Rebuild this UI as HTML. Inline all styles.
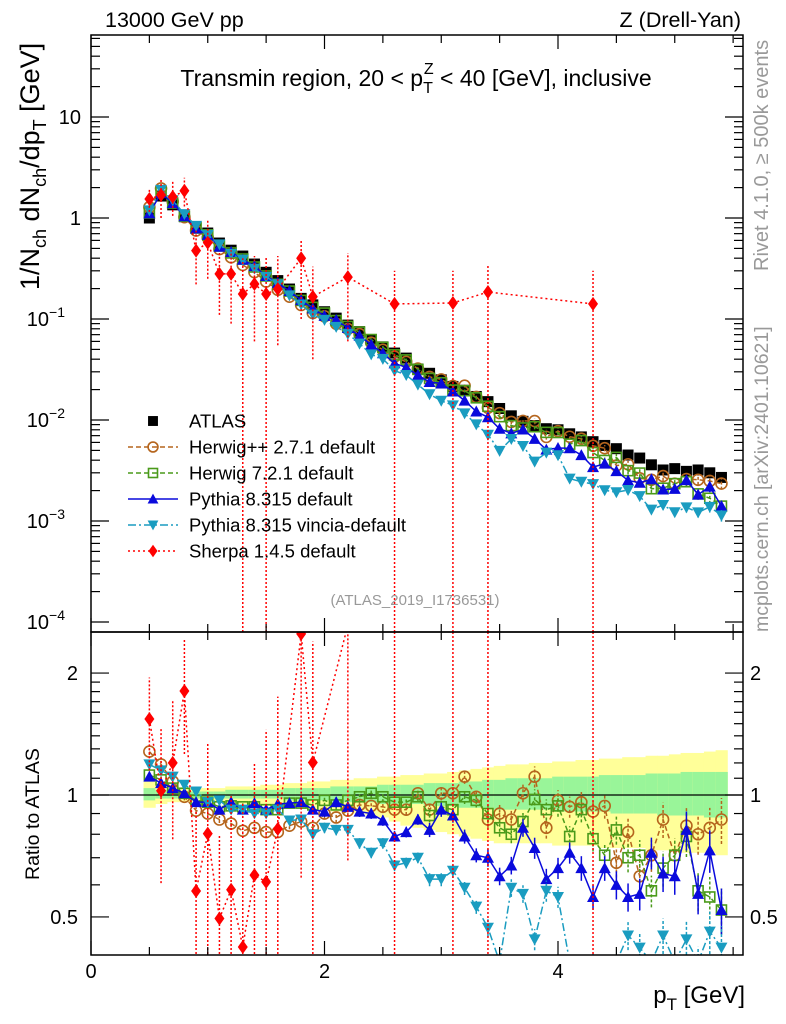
<!DOCTYPE html>
<html><head><meta charset="utf-8"><style>
html,body{margin:0;padding:0;background:#fff;width:786px;height:1024px;overflow:hidden}
svg{display:block;font-family:"Liberation Sans",Arial,sans-serif}
</style></head><body>
<svg id="chart" width="786" height="1024" viewBox="0 0 786 1024" xmlns="http://www.w3.org/2000/svg">
<defs>
<clipPath id="cm"><rect x="91" y="35" width="652" height="597"/></clipPath>
<clipPath id="cr"><rect x="91" y="632" width="652" height="323"/></clipPath>
</defs>
<g id="bands" clip-path="url(#cr)"></g>
<g id="marks"></g>
<g id="axes"></g>
<text x="105" y="27" font-size="21.5">13000 GeV pp</text>
<text x="741" y="27" font-size="21.5" text-anchor="end">Z (Drell-Yan)</text>
<text x="416" y="86" font-size="23" text-anchor="middle">Transmin region, 20 &lt; p<tspan font-size="16" dy="7">T</tspan><tspan font-size="16" dx="-9" dy="-19">Z</tspan><tspan dy="12"> &lt; 40 [GeV], inclusive</tspan></text>
<text x="415" y="605" font-size="15" fill="#999" text-anchor="middle">(ATLAS_2019_I1736531)</text>
<text transform="translate(768,271) rotate(-90)" font-size="20" fill="#999">Rivet 4.1.0, ≥ 500k events</text>
<text transform="translate(768,632) rotate(-90)" font-size="19.5" fill="#999">mcplots.cern.ch [arXiv:2401.10621]</text>
<text transform="translate(39,290) rotate(-90)" font-size="27">1/N<tspan font-size="18" dy="7">ch</tspan><tspan dy="-7"> dN</tspan><tspan font-size="18" dy="7">ch</tspan><tspan dy="-7">/dp</tspan><tspan font-size="18" dy="7">T</tspan><tspan dy="-7"> [GeV]</tspan></text>
<text transform="translate(39,880) rotate(-90)" font-size="19.5">Ratio to ATLAS</text>
<text x="745" y="1003" font-size="24" text-anchor="end">p<tspan font-size="17" dy="7">T</tspan><tspan dy="-7"> [GeV]</tspan></text>
<g id="legend"></g>
</svg>
<script>
const pt=[0.5,0.6,0.7,0.8,0.9,1.0,1.1,1.2,1.3,1.4,1.5,1.6,1.7,1.8,1.9,2.0,2.1,2.2,2.3,2.4,2.5,2.6,2.7,2.8,2.9,3.0,3.1,3.2,3.3,3.4,3.5,3.6,3.7,3.8,3.9,4.0,4.1,4.2,4.3,4.4,4.5,4.6,4.7,4.8,4.9,5.0,5.1,5.2,5.3,5.4];
const atlas=[1.0,1.65,1.35,1.03,0.82,0.71,0.565,0.48,0.42,0.35,0.29,0.24,0.198,0.16,0.138,0.118,0.102,0.087,0.075,0.062,0.053,0.046,0.041,0.032,0.029,0.025,0.0215,0.0197,0.0171,0.0152,0.013,0.011,0.0097,0.0088,0.0082,0.0080,0.0073,0.0068,0.0061,0.0056,0.0052,0.0045,0.0042,0.0036,0.0032,0.0033,0.0031,0.0032,0.0030,0.0027];
const herwigpp=[1.28,1.19,1.08,0.99,0.915,0.90,0.87,0.85,0.816,0.83,0.81,0.81,0.84,0.86,0.83,0.90,0.88,0.915,0.945,0.94,0.935,0.92,0.92,1.01,0.92,1.01,1.01,1.11,0.99,0.87,0.90,0.87,1.01,1.11,0.83,0.97,0.935,0.96,0.91,0.94,0.68,0.81,0.63,0.71,0.87,0.71,0.84,0.80,0.83,0.87];
const herwig7=[1.12,1.09,1.04,1.01,0.97,0.96,0.935,0.94,0.935,0.935,0.92,0.92,0.955,0.955,0.945,0.97,0.945,0.97,0.99,1.01,0.99,0.96,0.96,0.99,0.89,0.935,0.92,0.99,0.97,0.90,0.83,0.80,0.86,0.975,0.92,0.94,0.79,0.92,0.78,0.71,0.82,0.70,0.71,0.58,0.66,0.71,0.79,0.58,0.56,0.52];
const pythia=[1.11,1.07,1.04,1.01,0.96,0.96,0.92,0.96,0.92,0.955,0.92,0.95,0.955,0.96,0.92,0.91,0.96,0.935,0.91,0.90,0.865,0.79,0.81,0.87,0.82,0.92,0.89,0.79,0.71,0.70,0.63,0.67,0.83,0.74,0.62,0.66,0.72,0.66,0.56,0.66,0.60,0.56,0.57,0.72,0.64,0.63,0.82,0.57,0.73,0.52];
const vincia=[1.19,1.15,1.11,1.06,1.02,0.96,0.97,0.92,0.92,0.90,0.90,0.92,0.865,0.87,0.80,0.83,0.82,0.82,0.76,0.72,0.76,0.67,0.68,0.70,0.62,0.62,0.65,0.59,0.53,0.47,0.38,0.59,0.57,0.44,0.58,0.56,0.36,0.36,0.38,0.36,0.37,0.45,0.42,0.36,0.45,0.37,0.44,0.38,0.46,0.42];
const mcRelErr=[0.02,0.02,0.02,0.02,0.02,0.02,0.02,0.02,0.02,0.02,0.02,0.02,0.02,0.02,0.02,0.03,0.03,0.03,0.03,0.03,0.03,0.03,0.03,0.03,0.04,0.04,0.04,0.04,0.04,0.05,0.05,0.05,0.05,0.06,0.06,0.06,0.06,0.07,0.07,0.07,0.08,0.08,0.09,0.09,0.10,0.10,0.11,0.11,0.12,0.13];
const sherpaPt=[0.5,0.6,0.7,0.8,0.9,1.0,1.1,1.2,1.3,1.4,1.5,1.6,1.8,1.9,2.2,2.6,3.1,3.4,4.3];
const sherpa=[1.54,1.69,1.62,1.86,0.475,0.57,0.28,0.28,0.177,0.222,0.177,0.198,0.40,0.166,0.26,0.141,0.144,0.185,0.141];
const sherpaLo=[1.15,1.0,1.05,1.3,0.22,0.25,0.11,0.09,0.00001,0.06,0.00001,0.055,0.1,0.04,0.06,0.00001,0.00001,0.00001,0.00001];
const sherpaHi=[1.95,2.4,2.3,2.5,0.75,0.95,0.45,0.48,0.4,0.42,0.42,0.42,0.62,0.33,0.45,0.3,0.3,0.34,0.3];
const bandYHi=[1.08,1.06,1.05,1.04,1.04,1.04,1.04,1.05,1.05,1.05,1.06,1.06,1.07,1.07,1.08,1.08,1.09,1.09,1.10,1.10,1.11,1.11,1.12,1.12,1.13,1.13,1.14,1.15,1.16,1.17,1.18,1.19,1.19,1.20,1.20,1.21,1.21,1.22,1.22,1.23,1.23,1.24,1.24,1.25,1.25,1.26,1.27,1.27,1.28,1.29];
const bandGHi=[1.04,1.03,1.03,1.02,1.02,1.02,1.02,1.03,1.03,1.03,1.03,1.03,1.04,1.04,1.04,1.04,1.05,1.05,1.05,1.05,1.06,1.06,1.06,1.06,1.07,1.07,1.07,1.08,1.08,1.09,1.09,1.10,1.10,1.10,1.10,1.11,1.11,1.11,1.11,1.12,1.12,1.12,1.12,1.13,1.13,1.13,1.14,1.14,1.14,1.14];
const bandGLo=[0.97,0.98,0.98,0.98,0.98,0.98,0.98,0.98,0.98,0.98,0.98,0.98,0.97,0.97,0.97,0.97,0.96,0.96,0.96,0.96,0.95,0.95,0.95,0.95,0.94,0.94,0.94,0.93,0.93,0.93,0.92,0.92,0.92,0.92,0.92,0.91,0.91,0.91,0.91,0.91,0.90,0.90,0.90,0.90,0.89,0.89,0.89,0.89,0.88,0.88];
const bandYLo=[0.93,0.95,0.96,0.96,0.96,0.96,0.96,0.95,0.95,0.95,0.94,0.94,0.93,0.93,0.92,0.92,0.91,0.91,0.90,0.89,0.88,0.86,0.84,0.83,0.82,0.81,0.80,0.79,0.78,0.77,0.76,0.76,0.76,0.76,0.76,0.75,0.75,0.75,0.75,0.74,0.74,0.74,0.74,0.73,0.73,0.73,0.72,0.72,0.72,0.71];
const xTicks=[0,2,4];
const ratioTicks=[0.5,1,2];

const NS='http://www.w3.org/2000/svg';
const xs=v=>91+v*116.75;
const clampM=y=>Math.max(30,Math.min(640,y));
const clampR=y=>Math.max(625,Math.min(962,y));
const ym=v=>clampM(218-101*Math.log10(v));
const yr=r=>clampR(795-405*Math.log10(r));
function mk(tag,attrs,parent){const e=document.createElementNS(NS,tag);for(const k in attrs)e.setAttribute(k,attrs[k]);parent.appendChild(e);return e;}
const bands=document.getElementById('bands');
const marks=document.getElementById('marks');
const axes=document.getElementById('axes');
const legend=document.getElementById('legend');

pt.forEach((p,i)=>{
  const x0=xs(p-0.05),w=116.75*0.1+0.5;
  const a=mk('rect',{x:x0,y:yr(bandYHi[i]),width:w,height:yr(bandYLo[i])-yr(bandYHi[i]),fill:'#ffff99'},bands);
  
  
  const b=mk('rect',{x:x0,y:yr(bandGHi[i]),width:w,height:yr(bandGLo[i])-yr(bandGHi[i]),fill:'#99f599'},bands);
  
  
});
const one=mk('line',{x1:91,x2:743,y1:yr(1),y2:yr(1),stroke:'#000','stroke-width':1.3},bands);



function marker(g,type,x,y,col,s){
  s=s||1;let e;
  if(type==='sq') e=mk('rect',{x:x-5.5*s,y:y-5.5*s,width:11*s,height:11*s,fill:col},g);
  else if(type==='osq') e=mk('rect',{x:x-5*s,y:y-5*s,width:10*s,height:10*s,fill:'none',stroke:col,'stroke-width':1.6},g);
  else if(type==='oc') e=mk('circle',{cx:x,cy:y,r:5.5*s,fill:'none',stroke:col,'stroke-width':1.6},g);
  else if(type==='tu') e=mk('polygon',{points:`${x-6*s},${y+5*s} ${x+6*s},${y+5*s} ${x},${y-6*s}`,fill:col},g);
  else if(type==='td') e=mk('polygon',{points:`${x-6*s},${y-5*s} ${x+6*s},${y-5*s} ${x},${y+6*s}`,fill:col},g);
  else if(type==='dm') e=mk('polygon',{points:`${x},${y-7*s} ${x+5*s},${y} ${x},${y+7*s} ${x-5*s},${y}`,fill:col},g);
  return e;
}
const series=[
  {name:'herwigpp',vals:herwigpp,col:'#b5651d',type:'oc',dash:'5,3',label:'Herwig++ 2.7.1 default'},
  {name:'herwig7',vals:herwig7,col:'#4a9a1a',type:'osq',dash:'5,3',label:'Herwig 7.2.1 default'},
  {name:'pythia',vals:pythia,col:'#0a0adc',type:'tu',dash:'',label:'Pythia 8.315 default'},
  {name:'vincia',vals:vincia,col:'#1a9cc0',type:'td',dash:'8,3,2,3',label:'Pythia 8.315 vincia-default'}
];
const gm=mk('g',{'clip-path':'url(#cm)'},marks);


const gr=mk('g',{'clip-path':'url(#cr)'},marks);



const ga=mk('g',{},gm);


pt.forEach((p,i)=>{const e=marker(ga,'sq',xs(p),ym(atlas[i]),'#000');
  
  });

series.forEach(s=>{
  [['main',gm],['ratio',gr]].forEach(([pan,par])=>{
    const g=mk('g',{},par);
    
    
    const yf=i=>pan==='main'?ym(atlas[i]*s.vals[i]):yr(s.vals[i]);
    const pts=pt.map((p,i)=>xs(p)+','+yf(i)).join(' ');
    const l=mk('polyline',{points:pts,fill:'none',stroke:s.col,'stroke-width':1.5,'stroke-dasharray':s.dash},g);
    
    
    pt.forEach((p,i)=>{
      const v=pan==='main'?atlas[i]*s.vals[i]:s.vals[i];
      const yl=pan==='main'?ym(v*(1-mcRelErr[i])):yr(v*(1-mcRelErr[i]));
      const yh=pan==='main'?ym(v*(1+mcRelErr[i])):yr(v*(1+mcRelErr[i]));
      mk('line',{x1:xs(p),x2:xs(p),y1:yl,y2:yh,stroke:s.col,'stroke-width':1.5,'stroke-dasharray':s.dash?'3,2':''},g);
      const m=marker(g,s.type,xs(p),yf(i),s.col);
      
      
    });
  });
});
[['main',gm],['ratio',gr]].forEach(([pan,par])=>{
  const g=mk('g',{},par);
  
  
  const idx=p=>pt.findIndex(q=>Math.abs(q-p)<1e-6);
  const yf=(v,j)=>pan==='main'?ym(v):yr(v/atlas[idx(sherpaPt[j])]);
  const pts=sherpaPt.map((p,j)=>xs(p)+','+yf(sherpa[j],j)).join(' ');
  const l=mk('polyline',{points:pts,fill:'none',stroke:'#ff0000','stroke-width':1.5,'stroke-dasharray':'2,3'},g);
  
  
  sherpaPt.forEach((p,j)=>{
    mk('line',{x1:xs(p),x2:xs(p),y1:yf(sherpaLo[j],j),y2:yf(sherpaHi[j],j),stroke:'#ff0000','stroke-width':1.5,'stroke-dasharray':'2,2'},g);
    const m=marker(g,'dm',xs(p),yf(sherpa[j],j),'#ff0000');
    
    
  });
});

[[35,632],[632,955]].forEach(([t,b],k)=>{
  const r=mk('rect',{x:91,y:t,width:652,height:b-t,fill:'none',stroke:'#000','stroke-width':1.5},axes);
  
  
  for(let v=0;v<=5.58;v+=0.5){
    const major=Math.abs(v-Math.round(v/2)*2)<1e-6;
    const L=major?14:8;
    mk('line',{x1:xs(v),x2:xs(v),y1:b,y2:b-L,stroke:'#000','stroke-width':1.2},axes);
    mk('line',{x1:xs(v),x2:xs(v),y1:t,y2:t+L,stroke:'#000','stroke-width':1.2},axes);
  }
});
xTicks.forEach(v=>{const e=mk('text',{x:xs(v),y:978,'font-size':20,'text-anchor':'middle'},axes);e.textContent=v;
  
  });
for(let d=-4;d<=1;d++){
  for(let m=1;m<=9;m++){
    const v=m*Math.pow(10,d),y=218-101*Math.log10(v);
    if(y<35||y>632)continue;
    const L=m===1?18:9;
    mk('line',{x1:91,x2:91+L,y1:y,y2:y,stroke:'#000','stroke-width':1.2},axes);
    mk('line',{x1:743,x2:743-L,y1:y,y2:y,stroke:'#000','stroke-width':1.2},axes);
  }
}
const mainLabels=[['10',null,10],['1',null,1],['10','−1',0.1],['10','−2',0.01],['10','−3',0.001],['10','−4',0.0001]];
mainLabels.forEach(([b,e,v])=>{
  const t=mk('text',{x:e?65:81,y:ym(v)+7,'font-size':20,'text-anchor':'end'},axes);
  
  
  t.textContent=b;
  if(e){const s=mk('tspan',{dy:-9,'font-size':14},t);s.textContent=e;}
});
[0.5,0.6,0.7,0.8,0.9,1,2].forEach(v=>{
  const y=yr(v);const L=(v===0.5||v===1||v===2)?18:9;
  mk('line',{x1:91,x2:91+L,y1:y,y2:y,stroke:'#000','stroke-width':1.2},axes);
  mk('line',{x1:743,x2:743-L,y1:y,y2:y,stroke:'#000','stroke-width':1.2},axes);
});
[1.1,1.2,1.3,1.4,1.5,1.6,1.7,1.8,1.9].forEach(v=>{
  const y=yr(v);
  mk('line',{x1:91,x2:100,y1:y,y2:y,stroke:'#000','stroke-width':1.2},axes);
  mk('line',{x1:743,x2:734,y1:y,y2:y,stroke:'#000','stroke-width':1.2},axes);
});
ratioTicks.forEach(v=>{
  const a=mk('text',{x:78,y:yr(v)+7,'font-size':20,'text-anchor':'end'},axes);a.textContent=v;
  
  
  const b=mk('text',{x:750,y:yr(v)+7,'font-size':20},axes);b.textContent=v;
  
  
});

const legItems=[{label:'ATLAS',col:'#000',type:'sq',dash:null}].concat(series).concat([{label:'Sherpa 1.4.5 default',col:'#ff0000',type:'dm',dash:'2,3'}]);
legItems.forEach((it,k)=>{
  const y=421+k*26;
  const g=mk('g',{},legend);
  
  
  if(it.dash!==null) mk('line',{x1:128,x2:178,y1:y,y2:y,stroke:it.col,'stroke-width':1.5,'stroke-dasharray':it.dash},g);
  marker(g,it.type,153,y,it.col,0.9);
  const t=mk('text',{x:189,y:y+6.5,'font-size':18.5},g);t.textContent=it.label;
});
</script>
</body></html>
